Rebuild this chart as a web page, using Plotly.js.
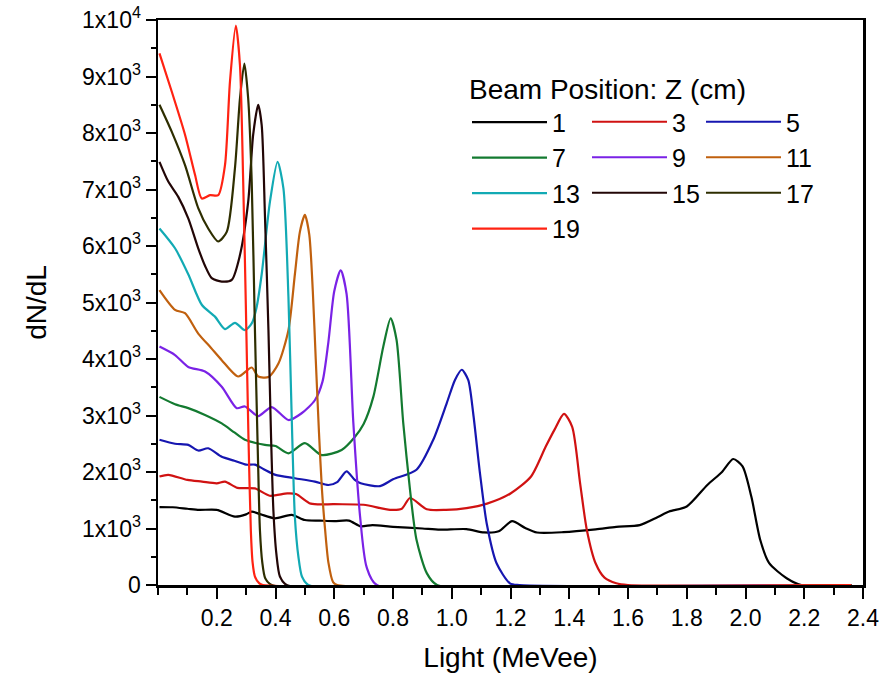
<!DOCTYPE html>
<html>
<head>
<meta charset="utf-8">
<script src="https://cdn.plot.ly/plotly-3.0.1.min.js"></script>
<style>html,body{margin:0;padding:0;background:#fff;}#chart{width:885px;height:677px;}</style>
</head>
<body>
<div id="chart"></div>
<script>
// Beam positions Z (cm)
const positions = ['1','3','5','7','9','11','13','15','17','19'];
const colors = ['#000000','#d01212','#1616b0','#137a30','#7a22e6','#c0600e','#12aab4','#220606','#2e2e00','#ff2212'];

const x1 = [0.005,0.05,0.10,0.14,0.20,0.262,0.30,0.319,0.35,0.398,0.455,0.50,0.55,0.60,0.65,0.69,0.73,0.80,0.90,0.96,1.05,1.11,1.16,1.205,1.25,1.29,1.38,1.49,1.56,1.64,1.70,1.74,1.80,1.87,1.92,1.958,1.99,2.02,2.05,2.08,2.14,2.19,2.36];
const y1 = [1380,1376,1350,1330,1330,1210,1250,1298,1250,1180,1240,1150,1140,1130,1140,1040,1060,1030,1000,980,990,930,950,1130,1010,930,935,985,1030,1060,1200,1300,1390,1770,2000,2230,2100,1560,800,390,120,0,0];

const x3 = [0.005,0.035,0.10,0.15,0.20,0.228,0.27,0.33,0.38,0.44,0.47,0.52,0.60,0.70,0.79,0.83,0.858,0.915,0.98,1.05,1.12,1.20,1.27,1.32,1.35,1.382,1.41,1.437,1.46,1.49,1.52,1.56,1.60,2.36];
const y3 = [1920,1950,1860,1830,1800,1830,1720,1710,1580,1620,1610,1440,1430,1420,1330,1350,1540,1340,1330,1360,1440,1620,1920,2450,2750,3030,2800,1800,970,380,130,30,0,0];

const x5 = [0.005,0.058,0.103,0.137,0.171,0.217,0.26,0.30,0.33,0.36,0.40,0.466,0.534,0.58,0.61,0.642,0.67,0.69,0.756,0.80,0.88,0.937,0.983,1.011,1.034,1.056,1.073,1.096,1.119,1.153,1.198,1.23,2.36];
const y5 = [2570,2500,2480,2380,2420,2270,2200,2130,2130,2050,1950,1890,1830,1770,1820,2010,1860,1800,1750,1870,2040,2570,3220,3630,3810,3630,3040,1980,1090,380,30,0,0];

const x7 = [0.005,0.058,0.103,0.16,0.217,0.26,0.296,0.364,0.40,0.444,0.50,0.557,0.625,0.67,0.70,0.733,0.767,0.792,0.812,0.835,0.858,0.88,0.915,0.95,2.36];
const y7 = [3330,3200,3130,3010,2860,2700,2570,2480,2460,2330,2510,2300,2390,2620,2850,3330,4220,4720,4340,2860,1680,800,210,0,0];

const x9 = [0.005,0.058,0.103,0.16,0.217,0.268,0.296,0.341,0.387,0.444,0.489,0.534,0.56,0.58,0.60,0.622,0.642,0.665,0.688,0.71,0.745,2.36];
const y9 = [4220,4070,3860,3780,3510,3130,3160,2990,3150,2920,3040,3270,3600,4300,5200,5570,5150,2870,1210,320,0,0];

const x11 = [0.005,0.058,0.092,0.137,0.18,0.217,0.273,0.319,0.341,0.376,0.41,0.444,0.466,0.483,0.50,0.515,0.527,0.537,0.548,0.558,0.569,0.58,0.596,0.61,2.36];
const y11 = [5220,4870,4810,4450,4200,3980,3690,3850,3690,3680,3920,4510,5500,6250,6550,6200,5200,4000,2700,1700,970,400,50,0,0];

const x13 = [0.005,0.058,0.103,0.149,0.194,0.228,0.262,0.296,0.319,0.335,0.353,0.381,0.407,0.427,0.444,0.455,0.466,0.478,0.49,0.512,2.36];
const y13 = [6310,5960,5500,4960,4750,4530,4640,4510,4630,4900,5500,6780,7490,7020,5100,3000,1200,500,150,0,0];

const x15 = [0.005,0.035,0.069,0.103,0.137,0.16,0.183,0.217,0.251,0.279,0.307,0.324,0.341,0.353,0.364,0.376,0.385,0.393,0.403,0.415,0.438,2.36];
const y15 = [7490,7140,6870,6490,5960,5650,5430,5370,5400,5840,6780,7970,8500,8140,6550,4510,2600,1300,550,150,0,0];

const x17 = [0.005,0.047,0.092,0.137,0.171,0.205,0.234,0.262,0.279,0.294,0.307,0.319,0.33,0.34,0.347,0.355,0.365,0.387,2.36];
const y17 = [8500,8020,7430,6670,6310,6080,6250,7380,8610,9230,8610,7140,4510,2300,970,400,120,0,0];

const x19 = [0.005,0.047,0.092,0.126,0.149,0.177,0.205,0.228,0.245,0.265,0.279,0.29,0.299,0.308,0.316,0.322,0.33,0.345,0.357,2.36];
const y19 = [9410,8730,7970,7260,6840,6900,6900,7430,8910,9900,9200,7140,4960,2600,970,400,150,30,0,0];

const xTickVals = [0.2,0.4,0.6,0.8,1.0,1.2,1.4,1.6,1.8,2.0,2.2,2.4];
const xTickText = ['0.2','0.4','0.6','0.8','1.0','1.2','1.4','1.6','1.8','2.0','2.2','2.4'];
const yTickVals = [0,1000,2000,3000,4000,5000,6000,7000,8000,9000,10000];
const yTickText = ['0','1x10<sup>3</sup>','2x10<sup>3</sup>','3x10<sup>3</sup>','4x10<sup>3</sup>','5x10<sup>3</sup>','6x10<sup>3</sup>','7x10<sup>3</sup>','8x10<sup>3</sup>','9x10<sup>3</sup>','1x10<sup>4</sup>'];

const xs = [x1,x3,x5,x7,x9,x11,x13,x15,x17,x19];
const ys = [y1,y3,y5,y7,y9,y11,y13,y15,y17,y19];
const legendOf = ['legend','legend2','legend3','legend','legend2','legend3','legend','legend2','legend3','legend'];

const traces = positions.map((p,i)=>({
  type:'scatter', mode:'lines', name:p, x:xs[i], y:ys[i],
  line:{color:colors[i], width:2.2, shape:'spline', smoothing:0.7},
  legend: legendOf[i]
}));

const F = 'Liberation Sans, Arial, sans-serif';
const legBase = {bgcolor:'rgba(0,0,0,0)', borderwidth:0, font:{family:F,size:25,color:'#000'}, itemwidth:75, traceorder:'normal', xanchor:'left', yanchor:'top', tracegroupgap:0};

const layout = {
  width:885, height:677,
  margin:{l:158, r:22, t:20, b:92},
  paper_bgcolor:'#fff', plot_bgcolor:'#fff',
  font:{family:F, color:'#000'},
  showlegend:true,
  xaxis:{
    range:[0,2.4], showline:true, linecolor:'#000', linewidth:2.5, mirror:true,
    showgrid:false, zeroline:false,
    tickmode:'array', tickvals:xTickVals, ticktext:xTickText,
    ticks:'outside', ticklen:11, tickwidth:2, tickcolor:'#000',
    minor:{tickmode:'linear', tick0:0, dtick:0.1, ticks:'outside', ticklen:7, tickwidth:2, tickcolor:'#000'},
    tickfont:{family:F, size:23, color:'#000'},
    title:{text:'Light (MeVee)', font:{family:F, size:28, color:'#000'}, standoff:18}
  },
  yaxis:{
    range:[0,10000], showline:true, linecolor:'#000', linewidth:2.5, mirror:true,
    showgrid:false, zeroline:false,
    tickmode:'array', tickvals:yTickVals, ticktext:yTickText,
    ticks:'outside', ticklen:10, tickwidth:2, tickcolor:'#000',
    minor:{tickmode:'linear', tick0:0, dtick:500, ticks:'outside', ticklen:5, tickwidth:2, tickcolor:'#000'},
    tickfont:{family:F, size:23, color:'#000'},
    title:{text:'dN/dL', font:{family:F, size:28, color:'#000'}, standoff:28}
  },
  legend: Object.assign({}, legBase, {x:(467-158)/705, y:(585-63)/565, title:{text:'Beam Position: Z (cm)', side:'top', font:{family:F,size:28,color:'#000'}}}),
  legend2: Object.assign({}, legBase, {x:(587-158)/705, y:(585-99)/565}),
  legend3: Object.assign({}, legBase, {x:(701-158)/705, y:(585-99)/565})
};

Plotly.newPlot('chart', traces, layout, {displayModeBar:false, staticPlot:true});
</script>
</body>
</html>
